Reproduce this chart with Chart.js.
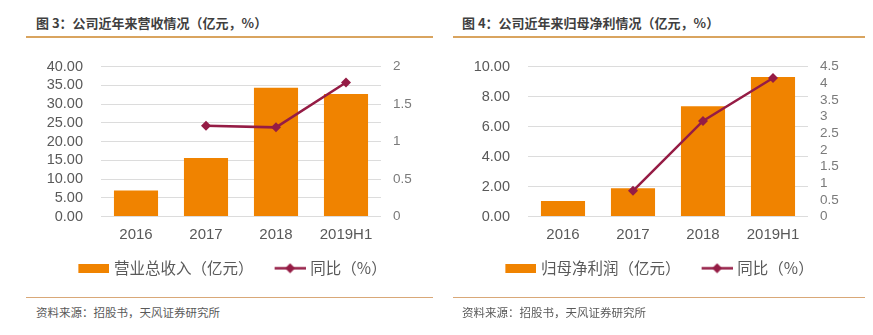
<!DOCTYPE html>
<html lang="zh">
<head>
<meta charset="utf-8">
<title>公司近年来营收与归母净利情况</title>
<script src="https://cdn.jsdelivr.net/npm/chart.js"></script>
<style>
    html, body { margin: 0; padding: 0; background: #fff; width: 873px; height: 335px; overflow: hidden; }
    .box { position: absolute; }
    .title { font: bold 13px "Noto Sans CJK SC", sans-serif; color: #3f3f3f; line-height: 20px; white-space: nowrap; }
    .rule { height: 2px; background: #d9a45f; }
    .rule-bottom { height: 1px; background: #d9a878; }
    .source { font: 11.5px "Noto Sans CJK SC", sans-serif; color: #595959; line-height: 16px; white-space: nowrap; }
</style>
</head>
<body>
    <!-- left panel -->
    <div class="box title" style="left:36px; top:13px;">图 3：公司近年来营收情况（亿元，%）</div>
    <div class="box rule" style="left:26px; top:36px; width:407px;"></div>
    <div class="box" style="left:12px; top:40px; width:436px; height:246px;">
        <canvas id="revenueChart" width="436" height="246"></canvas>
    </div>
    <div class="box rule-bottom" style="left:26px; top:297px; width:407px;"></div>
    <div class="box source" style="left:36px; top:304px;">资料来源：招股书，天风证券研究所</div>

    <!-- right panel -->
    <div class="box title" style="left:462px; top:13px;">图 4：公司近年来归母净利情况（亿元，%）</div>
    <div class="box rule" style="left:453px; top:36px; width:412px;"></div>
    <div class="box" style="left:439px; top:40px; width:436px; height:246px;">
        <canvas id="profitChart" width="436" height="246"></canvas>
    </div>
    <div class="box rule-bottom" style="left:453px; top:297px; width:412px;"></div>
    <div class="box source" style="left:462px; top:304px;">资料来源：招股书，天风证券研究所</div>

<script>
    // data
    const years = ['2016', '2017', '2018', '2019H1'];
    const revenue = [6.95, 15.6, 34.4, 32.7];          // 营业总收入（亿元）
    const revenueYoY = [null, 1.21, 1.19, 1.79];        // 同比（%）
    const netProfit = [1.04, 1.88, 7.36, 9.31];         // 归母净利润（亿元）
    const netProfitYoY = [null, 0.77, 2.87, 4.16];      // 同比（%）

    const ORANGE = '#f08300';
    const CRIMSON = '#951c45';
    const FONT_FAMILY = '"Liberation Sans", Arial, sans-serif';

    // legend box: 36px reserved, swatch drawn 5px in, text sits ~4px after it
    const BOX_W = 33;
    const SW_OFF = 5;
    const SW_LEN = 31;
    const IMG_W = 2 * (SW_OFF + SW_LEN) - BOX_W;   // image is centred on the box
    const IMG_X = SW_OFF - (BOX_W - IMG_W) / 2;

    function barSwatch() {
        const c = document.createElement('canvas');
        c.width = IMG_W; c.height = 9;
        const g = c.getContext('2d');
        g.fillStyle = ORANGE;
        g.fillRect(IMG_X, 0, SW_LEN, 9);
        return c;
    }
    function lineSwatch() {
        const c = document.createElement('canvas');
        c.width = IMG_W; c.height = 11;
        const g = c.getContext('2d');
        const mid = IMG_X + SW_LEN / 2;
        g.strokeStyle = CRIMSON;
        g.lineWidth = 2.5;
        g.beginPath(); g.moveTo(IMG_X, 5.5); g.lineTo(IMG_X + SW_LEN, 5.5); g.stroke();
        g.fillStyle = CRIMSON;
        g.beginPath();
        g.moveTo(mid, 0.5); g.lineTo(mid + 5, 5.5); g.lineTo(mid, 10.5); g.lineTo(mid - 5, 5.5);
        g.closePath(); g.fill();
        return c;
    }

    function makeChart(id, barLabel, barData, lineData, yMax, yStep, y1Max) {
        const ctx = document.getElementById(id).getContext('2d');
        return new Chart(ctx, {
            type: 'bar',
            data: {
                labels: years,
                datasets: [{
                    type: 'bar',
                    label: barLabel,
                    data: barData,
                    backgroundColor: ORANGE,
                    barPercentage: 0.63,
                    categoryPercentage: 1,
                    yAxisID: 'y',
                    order: 2
                }, {
                    type: 'line',
                    label: '同比（%）',
                    data: lineData,
                    borderColor: CRIMSON,
                    backgroundColor: CRIMSON,
                    borderWidth: 2.5,
                    pointStyle: 'rectRot',
                    pointRadius: 5,
                    pointBackgroundColor: CRIMSON,
                    pointBorderWidth: 0,
                    yAxisID: 'y1',
                    order: 1
                }]
            },
            options: {
                responsive: false,
                animation: false,
                layout: { padding: { top: 23, left: 0, right: 0, bottom: 0 } },
                plugins: {
                    tooltip: { enabled: false },
                    legend: {
                        position: 'bottom',
                        labels: {
                            usePointStyle: true,
                            pointStyleWidth: BOX_W,
                            padding: 16,
                            color: '#595959',
                            font: { family: '"Noto Sans CJK SC", sans-serif', size: 15.5 },
                            generateLabels: (chart) => chart.data.datasets.map((ds, i) => ({
                                text: ds.label,
                                pointStyle: i === 0 ? barSwatch() : lineSwatch(),
                                fillStyle: ds.backgroundColor,
                                strokeStyle: ds.backgroundColor,
                                lineWidth: 0,
                                fontColor: '#595959',
                                hidden: false,
                                datasetIndex: i
                            }))
                        }
                    }
                },
                scales: {
                    x: {
                        grid: { display: false, drawTicks: false },
                        border: { display: false },
                        ticks: { color: '#595959', font: { family: FONT_FAMILY, size: 15 }, padding: 9 },
                        afterFit: (s) => { s.height = 28; }
                    },
                    y: {
                        position: 'left',
                        min: 0,
                        max: yMax,
                        ticks: {
                            stepSize: yStep,
                            autoSkip: false,
                            color: '#595959',
                            font: { family: FONT_FAMILY, size: 14.5 },
                            padding: 18,
                            callback: (v) => v.toFixed(2)
                        },
                        grid: { color: '#dcdcdc', lineWidth: 1, drawTicks: false },
                        border: { display: false },
                        afterFit: (s) => { s.width = 89; }
                    },
                    y1: {
                        position: 'right',
                        min: 0,
                        max: y1Max,
                        ticks: {
                            stepSize: 0.5,
                            autoSkip: false,
                            color: '#7a7a7a',
                            font: { family: FONT_FAMILY, size: 13.5 },
                            padding: 12,
                            callback: (v) => String(v)
                        },
                        grid: { display: false, drawTicks: false },
                        border: { display: false },
                        afterFit: (s) => { s.width = 67; }
                    }
                }
            }
        });
    }

    makeChart('revenueChart', '营业总收入（亿元）', revenue, revenueYoY, 40, 5, 2);
    makeChart('profitChart', '归母净利润（亿元）', netProfit, netProfitYoY, 10, 2, 4.5);
</script>
</body>
</html>
